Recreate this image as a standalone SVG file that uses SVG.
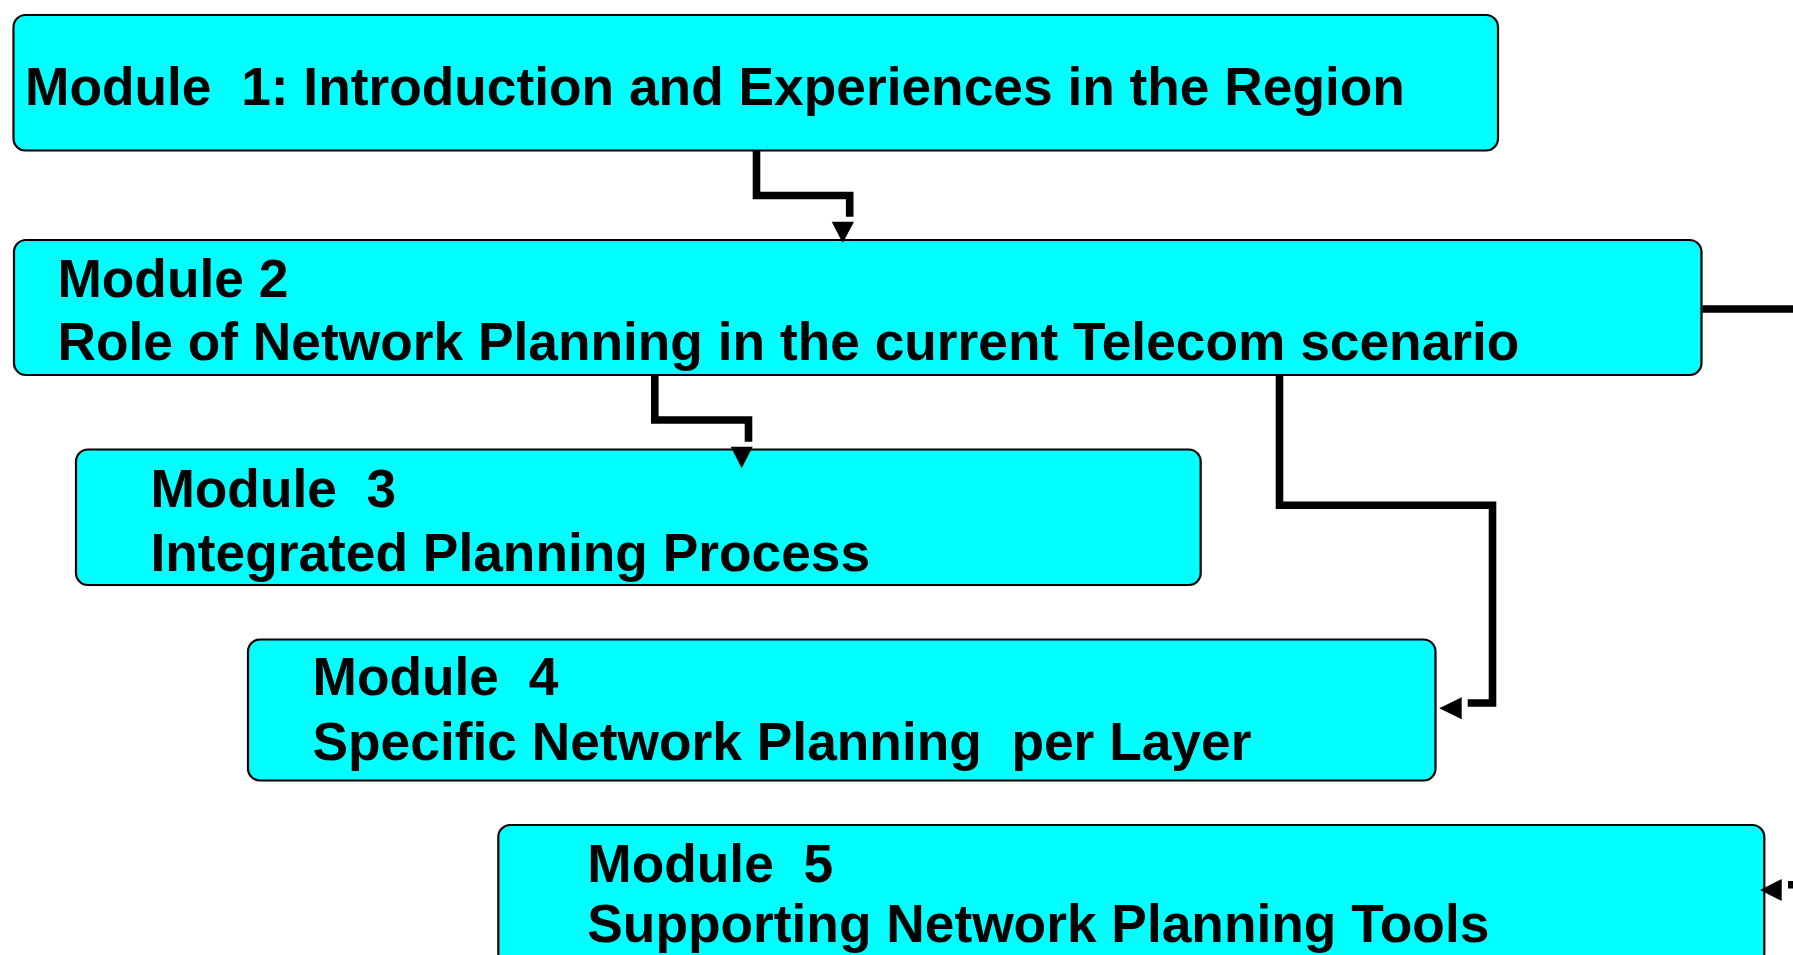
<svg xmlns="http://www.w3.org/2000/svg" width="1793" height="955" viewBox="0 0 1793 955">
  <style>
    .box { fill: #00FFFF; stroke: #000000; stroke-width: 2.2; }
    .lbl { font-family: "Liberation Sans", Arial, sans-serif; font-weight: bold; font-size: 53.3px; fill: #000000; white-space: pre; }
    .conn { fill: none; stroke: #000000; stroke-width: 7.6; stroke-linejoin: miter; stroke-linecap: butt; }
    .head { fill: #000000; stroke: none; }
  </style>
  <rect width="1793" height="955" fill="#FFFFFF"/>
  <g id="module1">
    <rect class="box" x="13.5" y="15" width="1484.5" height="135.5" rx="12" ry="12"/>
    <text class="lbl" x="25" y="105" xml:space="preserve">Module  1: Introduction and Experiences in the Region</text>
  </g>
  <g id="module2">
    <rect class="box" x="14" y="240" width="1687.5" height="135" rx="12" ry="12"/>
    <text class="lbl" x="57.4" y="297" xml:space="preserve">Module 2</text>
    <text class="lbl" x="57.4" y="360" xml:space="preserve">Role of Network Planning in the current Telecom scenario</text>
  </g>
  <g id="module3">
    <rect class="box" x="76" y="449.5" width="1124.7" height="135.5" rx="12" ry="12"/>
    <text class="lbl" x="150.4" y="506.5" xml:space="preserve">Module  3</text>
    <text class="lbl" x="150.4" y="570.5" xml:space="preserve">Integrated Planning Process</text>
  </g>
  <g id="module4">
    <rect class="box" x="248" y="639.5" width="1187.5" height="141" rx="12" ry="12"/>
    <text class="lbl" x="312.5" y="695.4" xml:space="preserve">Module  4</text>
    <text class="lbl" x="312.5" y="759.5" xml:space="preserve">Specific Network Planning  per Layer</text>
  </g>
  <g id="module5">
    <rect class="box" x="498.3" y="825" width="1266" height="140" rx="12" ry="12"/>
    <text class="lbl" x="587.3" y="881.7" xml:space="preserve">Module  5</text>
    <text class="lbl" x="587.3" y="942" xml:space="preserve">Supporting Network Planning Tools</text>
  </g>
  <g id="connectors">
    <path class="conn" d="M756.5,151 V195.5 H849.7 V216.7"/>
    <polygon class="head" points="831.7,221.7 854,221.7 842.7,243"/>
    <path class="conn" d="M654.8,376 V420 H748.5 V441.7"/>
    <polygon class="head" points="730.7,446.7 752.7,446.7 741.7,468.3"/>
    <path class="conn" d="M1279.5,376 V505.3 H1492.5 V703 H1467.7"/>
    <polygon class="head" points="1461.7,697.3 1461.7,719.3 1439.3,708.3"/>
    <path class="conn" d="M1702.5,309 H1810 V884.7 H1788"/>
    <polygon class="head" points="1781.7,879 1781.7,901 1760,890"/>
  </g>
</svg>
